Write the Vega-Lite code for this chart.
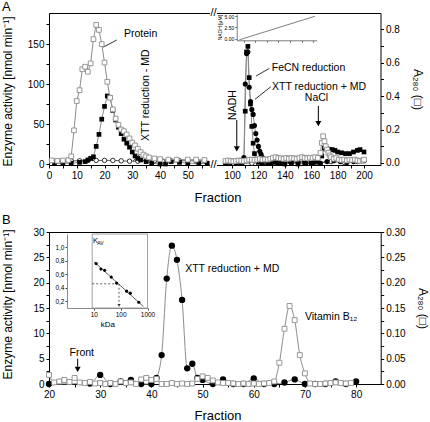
{
  "$schema": "https://vega.github.io/schema/vega-lite/v6.json",
  "autosize": {"type": "pad"},
  "padding": {"left": 1, "top": 1, "right": 0, "bottom": 0},
  "background": "white",
  "config": {
    "font": "Liberation Sans",
    "view": {"stroke": null},
    "axis": {"grid": false, "domainColor": "black", "tickColor": "black", "labelColor": "black", "titleColor": "black", "labelFontSize": 10, "tickSize": 3, "labelPadding": 2, "titleFontWeight": "normal", "domainWidth": 1, "tickWidth": 1, "labelFlush": false, "labelOverlap": false, "zindex": 0, "tickCount": 100},
    "text": {"color": "black"}
  },
  "datasets": {
    "A": [
      {"s":"P","f":1,"v":0.015},{"s":"P","f":3,"v":0.013},{"s":"P","f":5,"v":0.015},{"s":"P","f":7,"v":0.018},{"s":"P","f":8,"v":0.04},{"s":"P","f":9,"v":0.195},{"s":"P","f":10,"v":0.37},{"s":"P","f":11,"v":0.435},{"s":"P","f":12,"v":0.56},{"s":"P","f":13,"v":0.575},{"s":"P","f":14,"v":0.545},{"s":"P","f":15,"v":0.595},{"s":"P","f":16,"v":0.74},{"s":"P","f":17,"v":0.825},{"s":"P","f":18,"v":0.795},{"s":"P","f":19,"v":0.71},{"s":"P","f":20,"v":0.6},{"s":"P","f":21,"v":0.485},{"s":"P","f":22,"v":0.39},{"s":"P","f":23,"v":0.32},{"s":"P","f":24,"v":0.265},{"s":"P","f":25,"v":0.228},{"s":"P","f":26,"v":0.2},{"s":"P","f":27,"v":0.19},{"s":"P","f":28,"v":0.17},{"s":"P","f":29,"v":0.147},{"s":"P","f":30,"v":0.122},{"s":"P","f":31,"v":0.105},{"s":"P","f":32,"v":0.085},{"s":"P","f":33,"v":0.065},{"s":"P","f":34,"v":0.05},{"s":"P","f":35,"v":0.04},{"s":"P","f":36,"v":0.033},{"s":"P","f":38,"v":0.027},{"s":"P","f":40,"v":0.023},{"s":"P","f":43,"v":0.02},{"s":"P","f":46,"v":0.02},{"s":"P","f":50,"v":0.02},{"s":"P","f":53,"v":0.02},{"s":"P","f":56,"v":0.018},
      {"s":"P","f":95,"v":0.012},{"s":"P","f":97,"v":0.015},{"s":"P","f":99,"v":0.012},{"s":"P","f":101,"v":0.01},{"s":"P","f":103,"v":0.012},{"s":"P","f":105,"v":0.015},{"s":"P","f":107,"v":0.013},{"s":"P","f":109,"v":0.012},{"s":"P","f":111,"v":0.015},{"s":"P","f":113,"v":0.02},{"s":"P","f":115,"v":0.02},{"s":"P","f":117,"v":0.018},{"s":"P","f":119,"v":0.02},{"s":"P","f":121,"v":0.025},{"s":"P","f":123,"v":0.02},{"s":"P","f":125,"v":0.022},{"s":"P","f":127,"v":0.02},{"s":"P","f":129,"v":0.025},{"s":"P","f":131,"v":0.03},{"s":"P","f":133,"v":0.035},{"s":"P","f":135,"v":0.03},{"s":"P","f":137,"v":0.028},{"s":"P","f":139,"v":0.025},{"s":"P","f":141,"v":0.03},{"s":"P","f":143,"v":0.025},{"s":"P","f":145,"v":0.03},{"s":"P","f":147,"v":0.028},{"s":"P","f":149,"v":0.025},{"s":"P","f":151,"v":0.03},{"s":"P","f":153,"v":0.035},{"s":"P","f":155,"v":0.03},{"s":"P","f":157,"v":0.028},{"s":"P","f":159,"v":0.032},{"s":"P","f":161,"v":0.03},{"s":"P","f":163,"v":0.035},{"s":"P","f":165,"v":0.03},{"s":"P","f":167,"v":0.06},{"s":"P","f":168,"v":0.12},{"s":"P","f":169,"v":0.16},{"s":"P","f":170,"v":0.13},{"s":"P","f":171,"v":0.1},{"s":"P","f":172,"v":0.08},{"s":"P","f":173,"v":0.06},{"s":"P","f":174,"v":0.045},{"s":"P","f":175,"v":0.035},{"s":"P","f":177,"v":0.025},{"s":"P","f":179,"v":0.03},{"s":"P","f":181,"v":0.02},{"s":"P","f":183,"v":0.018},{"s":"P","f":185,"v":0.02},{"s":"P","f":187,"v":0.015},{"s":"P","f":189,"v":0.02},{"s":"P","f":191,"v":0.018},{"s":"P","f":193,"v":0.02},{"s":"P","f":195,"v":0.015},{"s":"P","f":197,"v":0.012},{"s":"P","f":199,"v":0.015},{"s":"P","f":200,"v":0.02},
      {"s":"F","f":2,"v":0.5},{"s":"F","f":5,"v":1},{"s":"F","f":8,"v":1},{"s":"F","f":11,"v":2},{"s":"F","f":13,"v":3},{"s":"F","f":14,"v":5},{"s":"F","f":15,"v":7},{"s":"F","f":16,"v":9},{"s":"F","f":17,"v":22},{"s":"F","f":18,"v":37},{"s":"F","f":19,"v":56},{"s":"F","f":20,"v":72},{"s":"F","f":21,"v":85},{"s":"F","f":22,"v":83},{"s":"F","f":23,"v":67},{"s":"F","f":24,"v":55},{"s":"F","f":25,"v":46},{"s":"F","f":26,"v":38},{"s":"F","f":27,"v":31},{"s":"F","f":28,"v":26},{"s":"F","f":29,"v":21},{"s":"F","f":30,"v":15},{"s":"F","f":31,"v":10},{"s":"F","f":32,"v":7},{"s":"F","f":33,"v":5},{"s":"F","f":35,"v":3},{"s":"F","f":37,"v":1},{"s":"F","f":40,"v":0},{"s":"F","f":42,"v":0},{"s":"F","f":44,"v":3},{"s":"F","f":47,"v":2},{"s":"F","f":50,"v":1},{"s":"F","f":54,"v":0.5},{"s":"F","f":57,"v":1},
      {"s":"F","f":95,"v":2},{"s":"F","f":98,"v":3},{"s":"F","f":101,"v":3},{"s":"F","f":104,"v":4},{"s":"F","f":107,"v":2},{"s":"F","f":109,"v":3},{"s":"F","f":110,"v":66},{"s":"F","f":111,"v":140},{"s":"F","f":112,"v":147},{"s":"F","f":113,"v":108},{"s":"F","f":114,"v":75},{"s":"F","f":115,"v":47},{"s":"F","f":116,"v":26},{"s":"F","f":117,"v":13},{"s":"F","f":118,"v":6},{"s":"F","f":120,"v":2},{"s":"F","f":123,"v":1},{"s":"F","f":127,"v":1},{"s":"F","f":131,"v":2},{"s":"F","f":135,"v":1},{"s":"F","f":140,"v":0},{"s":"F","f":145,"v":1},{"s":"F","f":150,"v":0},{"s":"F","f":155,"v":1},{"s":"F","f":160,"v":1},{"s":"F","f":165,"v":3},{"s":"F","f":168,"v":10},{"s":"F","f":170,"v":20},{"s":"F","f":172,"v":19},{"s":"F","f":174,"v":18},{"s":"F","f":176,"v":18},{"s":"F","f":178,"v":17},{"s":"F","f":180,"v":15},{"s":"F","f":183,"v":14},{"s":"F","f":186,"v":13},{"s":"F","f":189,"v":13},{"s":"F","f":192,"v":15},{"s":"F","f":195,"v":17},{"s":"F","f":197,"v":18},{"s":"F","f":200,"v":15},
      {"s":"XP","f":95,"v":1},{"s":"XP","f":99,"v":2},{"s":"XP","f":103,"v":1},{"s":"XP","f":106,"v":2},{"s":"XP","f":108,"v":2},{"s":"XP","f":109,"v":8},{"s":"XP","f":110,"v":100},{"s":"XP","f":111,"v":138},{"s":"XP","f":112,"v":140},{"s":"XP","f":113,"v":96},{"s":"XP","f":114,"v":78},{"s":"XP","f":115,"v":68},{"s":"XP","f":116,"v":62},{"s":"XP","f":117,"v":48},{"s":"XP","f":118,"v":38},{"s":"XP","f":119,"v":30},{"s":"XP","f":120,"v":22},{"s":"XP","f":121,"v":16},{"s":"XP","f":122,"v":12},{"s":"XP","f":123,"v":8},{"s":"XP","f":125,"v":5},{"s":"XP","f":127,"v":3},{"s":"XP","f":130,"v":2},{"s":"XP","f":134,"v":2},{"s":"XP","f":138,"v":1},{"s":"XP","f":144,"v":3},{"s":"XP","f":150,"v":2},{"s":"XP","f":156,"v":1},{"s":"XP","f":162,"v":2},{"s":"XP","f":167,"v":1},{"s":"XP","f":172,"v":3},{"s":"XP","f":177,"v":4},{"s":"XP","f":182,"v":3},{"s":"XP","f":187,"v":2},{"s":"XP","f":192,"v":3},{"s":"XP","f":196,"v":4},{"s":"XP","f":200,"v":4},
      {"s":"XM","f":2,"v":3},{"s":"XM","f":5,"v":3.5},{"s":"XM","f":8,"v":4},{"s":"XM","f":11,"v":4},{"s":"XM","f":14,"v":4.5},{"s":"XM","f":17,"v":4.5},{"s":"XM","f":20,"v":4.5},{"s":"XM","f":23,"v":4.5},{"s":"XM","f":26,"v":4},{"s":"XM","f":29,"v":3.5},{"s":"XM","f":32,"v":3.5},{"s":"XM","f":35,"v":4.5},{"s":"XM","f":38,"v":4},{"s":"XM","f":41,"v":3.5},{"s":"XM","f":44,"v":4},{"s":"XM","f":47,"v":4},{"s":"XM","f":50,"v":4},{"s":"XM","f":53,"v":4},{"s":"XM","f":56,"v":4},
      {"s":"XM","f":97,"v":2},{"s":"XM","f":105,"v":2},{"s":"XM","f":115,"v":1},{"s":"XM","f":125,"v":2},{"s":"XM","f":135,"v":3},{"s":"XM","f":145,"v":2},{"s":"XM","f":155,"v":3},{"s":"XM","f":165,"v":2},{"s":"XM","f":175,"v":3},{"s":"XM","f":185,"v":2},{"s":"XM","f":195,"v":3}
    ],
    "B": [
      {"s":"XP","f":20,"v":0},{"s":"XP","f":28,"v":0.1},{"s":"XP","f":30,"v":1.8},{"s":"XP","f":32,"v":0},{"s":"XP","f":34,"v":0.5},{"s":"XP","f":36,"v":0.8},{"s":"XP","f":38,"v":0},{"s":"XP","f":40,"v":0},{"s":"XP","f":41,"v":1.2},{"s":"XP","f":42,"v":5.7},{"s":"XP","f":43,"v":20.8},{"s":"XP","f":44,"v":27.3},{"s":"XP","f":45,"v":24.5},{"s":"XP","f":46,"v":16.6},{"s":"XP","f":47,"v":3.1},{"s":"XP","f":48,"v":4.0},{"s":"XP","f":49,"v":1.2},{"s":"XP","f":50,"v":0.8},{"s":"XP","f":52,"v":0},{"s":"XP","f":54,"v":0.9},{"s":"XP","f":56,"v":0},{"s":"XP","f":58,"v":0},{"s":"XP","f":60,"v":1.1},{"s":"XP","f":62,"v":0},{"s":"XP","f":64,"v":0},{"s":"XP","f":66,"v":0.3},{"s":"XP","f":68,"v":0.9},{"s":"XP","f":70,"v":0},{"s":"XP","f":72,"v":0},{"s":"XP","f":74,"v":0},{"s":"XP","f":76,"v":0.5},{"s":"XP","f":78,"v":0},{"s":"XP","f":80,"v":0.5},
      {"s":"P","f":20,"v":0.018},{"s":"P","f":21,"v":0.003},{"s":"P","f":22,"v":0.005},{"s":"P","f":23,"v":0.008},{"s":"P","f":24,"v":0.004},{"s":"P","f":25,"v":0.012},{"s":"P","f":26,"v":0.003},{"s":"P","f":27,"v":0.002},{"s":"P","f":28,"v":0.004},{"s":"P","f":29,"v":0.001},{"s":"P","f":30,"v":0.002},{"s":"P","f":31,"v":0},{"s":"P","f":32,"v":0.002},{"s":"P","f":33,"v":0},{"s":"P","f":34,"v":0.005},{"s":"P","f":35,"v":0.002},{"s":"P","f":36,"v":0.003},{"s":"P","f":37,"v":0},{"s":"P","f":38,"v":0.009},{"s":"P","f":39,"v":0.012},{"s":"P","f":40,"v":0.008},{"s":"P","f":41,"v":0.01},{"s":"P","f":42,"v":0},{"s":"P","f":43,"v":0},{"s":"P","f":44,"v":0.002},{"s":"P","f":45,"v":0},{"s":"P","f":46,"v":0.001},{"s":"P","f":47,"v":0},{"s":"P","f":48,"v":0.001},{"s":"P","f":49,"v":0.01},{"s":"P","f":50,"v":0.015},{"s":"P","f":51,"v":0.012},{"s":"P","f":52,"v":0.007},{"s":"P","f":53,"v":0.003},{"s":"P","f":54,"v":0.002},{"s":"P","f":55,"v":0.002},{"s":"P","f":56,"v":0.001},{"s":"P","f":57,"v":0},{"s":"P","f":58,"v":0.001},{"s":"P","f":59,"v":0},{"s":"P","f":60,"v":0.001},{"s":"P","f":61,"v":0},{"s":"P","f":62,"v":0.001},{"s":"P","f":63,"v":0.002},{"s":"P","f":64,"v":0.005},{"s":"P","f":65,"v":0.042},{"s":"P","f":66,"v":0.109},{"s":"P","f":67,"v":0.154},{"s":"P","f":68,"v":0.126},{"s":"P","f":69,"v":0.057},{"s":"P","f":70,"v":0.021},{"s":"P","f":71,"v":0.001},{"s":"P","f":72,"v":0},{"s":"P","f":73,"v":0},{"s":"P","f":74,"v":0.001},{"s":"P","f":75,"v":0.002},{"s":"P","f":76,"v":0.003},{"s":"P","f":77,"v":0.002},{"s":"P","f":78,"v":0.001},{"s":"P","f":79,"v":0.002}
    ],
    "K": [
      {"kda":12.2,"kav":0.76},{"kda":18.4,"kav":0.68},{"kda":25.3,"kav":0.66},{"kda":44.6,"kav":0.56},{"kda":70.2,"kav":0.47},{"kda":167,"kav":0.35},{"kda":229,"kav":0.32},{"kda":472,"kav":0.185}
    ],
    "Kfit": [{"kda":10,"kav":0.79},{"kda":700,"kav":0.123}],
    "N": [{"t":-0.38,"c":-0.3},{"t":6.15,"c":5.0}]
  },
  "bounds": "flush",
  "spacing": 67,
  "vconcat": [
    {
      "width": 331.5, "height": 152,
      "resolve": {"scale": {"x": "independent", "y": "independent"}, "axis": {"x": "independent", "y": "independent"}},
      "layer": [
        {"layer": [
          {"data": {"name": "A"}, "transform": [{"filter": "datum.s == 'F' && datum.f < 60"}],
           "mark": {"type": "line", "color": "#8c8c8c", "strokeWidth": 1},
           "encoding": {
             "x": {"field": "f", "type": "quantitative", "scale": {"domain": [0, 58, 88.6, 212.5], "range": [0, 161, 168, 331.5], "nice": false, "zero": false},
               "axis": {"orient": "bottom", "tickCount": 100, "labelOverlap": false, "values": [0,5,10,15,20,25,30,35,40,45,50,55,100,110,120,130,140,150,160,170,180,190,200], "labelExpr": "(datum.value < 60 && datum.value % 10 == 0) || (datum.value >= 100 && datum.value % 20 == 0) ? format(datum.value, 'd') : ''", "title": "Fraction", "titleFontSize": 13, "titleX": 168.5, "titleY": 36, "titleBaseline": "alphabetic", "titleAlign": "center", "titleAngle": 0}},
             "y": {"field": "v", "type": "quantitative", "scale": {"domain": [-1.25, 188.75], "nice": false, "zero": false},
               "axis": {"orient": "left", "tickCount": 100, "labelOverlap": false, "values": [0,25,50,75,100,125,150,175], "labelExpr": "datum.value % 50 == 0 ? format(datum.value, 'd') : ''", "title": "Enzyme activity [nmol min⁻¹]", "titleFontSize": 12, "titleX": -37.5, "titleY": 78, "titleAngle": 270, "titleBaseline": "alphabetic", "titleAlign": "center"}}
           }},
          {"data": {"name": "A"}, "transform": [{"filter": "datum.s == 'F' && datum.f > 90"}],
           "mark": {"type": "line", "color": "#8c8c8c", "strokeWidth": 1},
           "encoding": {"x": {"field": "f", "type": "quantitative"}, "y": {"field": "v", "type": "quantitative"}}},
          {"data": {"name": "A"}, "transform": [{"filter": "datum.s == 'XP'"}],
           "mark": {"type": "line", "color": "#8c8c8c", "strokeWidth": 1},
           "encoding": {"x": {"field": "f", "type": "quantitative"}, "y": {"field": "v", "type": "quantitative"}}},
          {"data": {"name": "A"}, "transform": [{"filter": "datum.s == 'XM' && datum.f < 60"}],
           "mark": {"type": "line", "color": "#333333", "strokeWidth": 0.8},
           "encoding": {"x": {"field": "f", "type": "quantitative"}, "y": {"field": "v", "type": "quantitative"}}},
          {"data": {"name": "A"}, "transform": [{"filter": "datum.s == 'XM' && datum.f > 90"}],
           "mark": {"type": "line", "color": "#333333", "strokeWidth": 0.8},
           "encoding": {"x": {"field": "f", "type": "quantitative"}, "y": {"field": "v", "type": "quantitative"}}},
          {"data": {"name": "A"}, "transform": [{"filter": "datum.s == 'XM'"}],
           "mark": {"type": "point", "shape": "circle", "filled": true, "fill": "white", "stroke": "black", "strokeWidth": 0.8, "size": 20, "opacity": 1},
           "encoding": {"x": {"field": "f", "type": "quantitative"}, "y": {"field": "v", "type": "quantitative"}}},
          {"data": {"name": "A"}, "transform": [{"filter": "datum.s == 'F'"}],
           "mark": {"type": "point", "shape": "square", "filled": true, "color": "black", "size": 22, "opacity": 1},
           "encoding": {"x": {"field": "f", "type": "quantitative"}, "y": {"field": "v", "type": "quantitative"}}},
          {"data": {"name": "A"}, "transform": [{"filter": "datum.s == 'XP'"}],
           "mark": {"type": "point", "shape": "circle", "filled": true, "color": "black", "size": 26, "opacity": 1},
           "encoding": {"x": {"field": "f", "type": "quantitative"}, "y": {"field": "v", "type": "quantitative"}}},
          {"data": {"values": [{}]}, "mark": {"type": "text", "align": "left", "baseline": "middle", "fontSize": 10.5},
           "encoding": {"x": {"datum": 27}, "y": {"datum": 162.5}, "text": {"value": "Protein"}}},
          {"data": {"values": [{}]}, "mark": {"type": "rule", "color": "black", "strokeWidth": 0.8},
           "encoding": {"x": {"datum": 19.5}, "y": {"datum": 146}, "x2": {"datum": 24.4}, "y2": {"datum": 155}}},
          {"data": {"values": [{}]}, "mark": {"type": "text", "align": "center", "baseline": "middle", "fontSize": 10.5, "angle": 270},
           "encoding": {"x": {"datum": 35.1}, "y": {"datum": 86}, "text": {"value": "XTT reduction - MD"}}},
          {"data": {"values": [{}]}, "mark": {"type": "rule", "color": "black", "strokeWidth": 0.8},
           "encoding": {"x": {"datum": 30.3}, "y": {"datum": 3.75}, "x2": {"datum": 33.3}, "y2": {"datum": 14}}},
          {"data": {"values": [{}]}, "mark": {"type": "text", "align": "left", "baseline": "middle", "fontSize": 10.5},
           "encoding": {"x": {"datum": 130.1}, "y": {"datum": 120.4}, "text": {"value": "FeCN reduction"}}},
          {"data": {"values": [{}]}, "mark": {"type": "rule", "color": "black", "strokeWidth": 0.8},
           "encoding": {"x": {"datum": 118.2}, "y": {"datum": 110}, "x2": {"datum": 128.3}, "y2": {"datum": 119.5}}},
          {"data": {"values": [{}]}, "mark": {"type": "text", "align": "left", "baseline": "middle", "fontSize": 10.5},
           "encoding": {"x": {"datum": 130.3}, "y": {"datum": 96.25}, "text": {"value": "XTT reduction + MD"}}},
          {"data": {"values": [{}]}, "mark": {"type": "rule", "color": "black", "strokeWidth": 0.8},
           "encoding": {"x": {"datum": 117.4}, "y": {"datum": 80.9}, "x2": {"datum": 129.3}, "y2": {"datum": 96.5}}},
          {"data": {"values": [{}]}, "mark": {"type": "text", "align": "center", "baseline": "middle", "fontSize": 10.5, "angle": 270},
           "encoding": {"x": {"datum": 101.1}, "y": {"datum": 73.75}, "text": {"value": "NADH"}}},
          {"data": {"values": [{}]}, "mark": {"type": "rule", "color": "black", "strokeWidth": 1},
           "encoding": {"x": {"datum": 103.6}, "y": {"datum": 55}, "y2": {"datum": 22}}},
          {"data": {"values": [{}]}, "mark": {"type": "point", "shape": "triangle-down", "filled": true, "color": "black", "size": 36, "opacity": 1},
           "encoding": {"x": {"datum": 103.6}, "y": {"datum": 19}}},
          {"data": {"values": [{}]}, "mark": {"type": "text", "align": "center", "baseline": "middle", "fontSize": 10.5},
           "encoding": {"x": {"datum": 164}, "y": {"datum": 82.9}, "text": {"value": "NaCl"}}},
          {"data": {"values": [{}]}, "mark": {"type": "rule", "color": "black", "strokeWidth": 1},
           "encoding": {"x": {"datum": 165.4}, "y": {"datum": 72.5}, "y2": {"datum": 53}}},
          {"data": {"values": [{}]}, "mark": {"type": "point", "shape": "triangle-down", "filled": true, "color": "black", "size": 36, "opacity": 1},
           "encoding": {"x": {"datum": 165.4}, "y": {"datum": 50.5}}},
          {"data": {"values": [{}]}, "mark": {"type": "text", "align": "left", "baseline": "alphabetic", "fontSize": 13, "dx": -47, "dy": -2},
           "encoding": {"x": {"datum": 0}, "y": {"datum": 188.75}, "text": {"value": "A"}}},
          {"data": {"values": [{}]}, "mark": {"type": "rect", "fill": "white", "stroke": null},
           "encoding": {"x": {"datum": 58.2}, "x2": {"datum": 88.3}, "y": {"datum": -6}, "y2": {"datum": 193}}},
          {"data": {"values": [{}]}, "mark": {"type": "text", "align": "center", "baseline": "middle", "fontSize": 11, "dx": 3.5},
           "encoding": {"x": {"datum": 58}, "y": {"datum": 188.75}, "text": {"value": "//"}}},
          {"data": {"values": [{}]}, "mark": {"type": "text", "align": "center", "baseline": "middle", "fontSize": 11, "dx": 3.5},
           "encoding": {"x": {"datum": 58}, "y": {"datum": -1.25}, "text": {"value": "//"}}}
        ]},
        {"layer": [
          {"data": {"name": "A"}, "transform": [{"filter": "datum.s == 'P' && datum.f < 60"}],
           "mark": {"type": "line", "color": "#8c8c8c", "strokeWidth": 1},
           "encoding": {
             "x": {"field": "f", "type": "quantitative", "scale": {"domain": [0, 58, 88.6, 212.5], "range": [0, 161, 168, 331.5], "nice": false, "zero": false}, "axis": {"orient": "top", "labels": false, "ticks": false, "title": null}},
             "y": {"field": "v", "type": "quantitative", "scale": {"domain": [-0.012, 0.896], "nice": false, "zero": false},
               "axis": {"orient": "right", "tickCount": 100, "labelOverlap": false, "labelAlign": "left", "values": [0,0.1,0.2,0.3,0.4,0.5,0.6,0.7,0.8], "labelExpr": "round(datum.value*10) % 2 == 0 ? format(datum.value, '.1f') : ''", "title": "A₂₈₀ (□)", "titleFontSize": 12, "titleAngle": 90, "titleX": 32.5, "titleY": 76, "titleBaseline": "alphabetic", "titleAlign": "center"}}}},
          {"data": {"name": "A"}, "transform": [{"filter": "datum.s == 'P' && datum.f > 90"}],
           "mark": {"type": "line", "color": "#8c8c8c", "strokeWidth": 1},
           "encoding": {"x": {"field": "f", "type": "quantitative", "axis": {"orient": "top"}}, "y": {"field": "v", "type": "quantitative", "axis": {"orient": "right"}}}},
          {"data": {"name": "A"}, "transform": [{"filter": "datum.s == 'P'"}],
           "mark": {"type": "point", "shape": "square", "filled": true, "fill": "white", "stroke": "#8c8c8c", "strokeWidth": 0.9, "size": 22, "opacity": 1},
           "encoding": {"x": {"field": "f", "type": "quantitative", "axis": {"orient": "top"}}, "y": {"field": "v", "type": "quantitative", "axis": {"orient": "right"}}}}
        ]},
        {"layer": [
          {"data": {"name": "N"},
           "mark": {"type": "line", "color": "#707070", "strokeWidth": 0.9},
           "encoding": {
             "x": {"field": "t", "type": "quantitative", "scale": {"domain": [-0.6, 6.3], "range": [187.7, 267.7], "nice": false, "zero": false},
               "axis": {"orient": "bottom", "tickCount": 100, "offset": -124.7, "values": [0,1,2,3,4,5,6], "labels": false, "tickSize": 2, "title": null, "domainColor": "#444", "tickColor": "#444", "domainWidth": 0.7, "tickWidth": 0.7}},
             "y": {"field": "c", "type": "quantitative", "scale": {"domain": [-0.4, 5.5], "range": [27.3, 1], "nice": false, "zero": false},
               "axis": {"orient": "left", "tickCount": 100, "labelOverlap": false, "offset": -187.7, "values": [0, 2.5, 5], "labelFontSize": 5, "tickSize": 2, "labelPadding": 1, "title": "NADH [µM]", "titleFontSize": 5, "titlePadding": 1, "domainColor": "#444", "tickColor": "#444", "domainWidth": 0.7, "tickWidth": 0.7}}
           }}
        ]}
      ]
    },
    {
      "width": 331.7, "height": 152,
      "resolve": {"scale": {"x": "independent", "y": "independent"}, "axis": {"x": "independent", "y": "independent"}},
      "layer": [
        {"layer": [
          {"data": {"name": "B"}, "transform": [{"filter": "datum.s == 'XP'"}],
           "mark": {"type": "line", "color": "#8c8c8c", "strokeWidth": 1, "interpolate": "monotone"},
           "encoding": {
             "x": {"field": "f", "type": "quantitative", "scale": {"domain": [20, 84.8], "nice": false, "zero": false},
               "axis": {"orient": "bottom", "tickCount": 100, "labelOverlap": false, "values": [20,25,30,35,40,45,50,55,60,65,70,75,80], "labelExpr": "datum.value % 10 == 0 ? format(datum.value, 'd') : ''", "title": "Fraction", "titleFontSize": 13, "titleX": 168.5, "titleY": 35.3, "titleBaseline": "alphabetic", "titleAlign": "center", "titleAngle": 0}},
             "y": {"field": "v", "type": "quantitative", "scale": {"domain": [0, 30], "nice": false, "zero": false},
               "axis": {"orient": "left", "tickCount": 100, "labelOverlap": false, "values": [0,2.5,5,7.5,10,12.5,15,17.5,20,22.5,25,27.5,30], "labelExpr": "datum.value % 5 == 0 ? format(datum.value, 'd') : ''", "title": "Enzyme activity [nmol min⁻¹]", "titleFontSize": 12, "titleX": -37.5, "titleY": 72, "titleAngle": 270, "titleBaseline": "alphabetic", "titleAlign": "center"}}
           }},
          {"data": {"name": "B"}, "transform": [{"filter": "datum.s == 'XP'"}],
           "mark": {"type": "point", "shape": "circle", "filled": true, "color": "black", "size": 40, "opacity": 1},
           "encoding": {"x": {"field": "f", "type": "quantitative"}, "y": {"field": "v", "type": "quantitative"}}},
          {"data": {"values": [{}]}, "mark": {"type": "text", "align": "left", "baseline": "middle", "fontSize": 10.5},
           "encoding": {"x": {"datum": 46.6}, "y": {"datum": 22.75}, "text": {"value": "XTT reduction + MD"}}},
          {"data": {"values": [{}]}, "mark": {"type": "text", "align": "left", "baseline": "middle", "fontSize": 10.5},
           "encoding": {"x": {"datum": 70}, "y": {"datum": 13.2}, "text": {"value": "Vitamin B₁₂"}}},
          {"data": {"values": [{}]}, "mark": {"type": "text", "align": "center", "baseline": "middle", "fontSize": 10.5},
           "encoding": {"x": {"datum": 26.4}, "y": {"datum": 6.1}, "text": {"value": "Front"}}},
          {"data": {"values": [{}]}, "mark": {"type": "rule", "color": "black", "strokeWidth": 1},
           "encoding": {"x": {"datum": 25.6}, "y": {"datum": 5.0}, "y2": {"datum": 3.4}}},
          {"data": {"values": [{}]}, "mark": {"type": "point", "shape": "triangle-down", "filled": true, "color": "black", "size": 36, "opacity": 1},
           "encoding": {"x": {"datum": 25.6}, "y": {"datum": 2.9}}},
          {"data": {"values": [{}]}, "mark": {"type": "text", "align": "left", "baseline": "alphabetic", "fontSize": 13, "dx": -47, "dy": -7.7},
           "encoding": {"x": {"datum": 20}, "y": {"datum": 30}, "text": {"value": "B"}}}
        ]},
        {"layer": [
          {"data": {"name": "B"}, "transform": [{"filter": "datum.s == 'P'"}],
           "mark": {"type": "line", "color": "#8c8c8c", "strokeWidth": 1, "interpolate": "monotone"},
           "encoding": {
             "x": {"field": "f", "type": "quantitative", "scale": {"domain": [20, 84.8], "nice": false, "zero": false}, "axis": {"orient": "top", "labels": false, "ticks": false, "title": null}},
             "y": {"field": "v", "type": "quantitative", "scale": {"domain": [0, 0.3], "nice": false, "zero": false},
               "axis": {"orient": "right", "tickCount": 100, "labelOverlap": false, "labelAlign": "left", "values": [0,0.025,0.05,0.075,0.1,0.125,0.15,0.175,0.2,0.225,0.25,0.275,0.3], "labelExpr": "round(datum.value*1000) % 50 == 0 ? format(datum.value, '.2f') : ''", "title": "A₂₈₀ (□)", "titleFontSize": 12, "titleAngle": 90, "titleX": 37.5, "titleY": 76, "titleBaseline": "alphabetic", "titleAlign": "center"}}}},
          {"data": {"name": "B"}, "transform": [{"filter": "datum.s == 'P'"}],
           "mark": {"type": "point", "shape": "square", "filled": true, "fill": "white", "stroke": "#8c8c8c", "strokeWidth": 0.9, "size": 24, "opacity": 1},
           "encoding": {"x": {"field": "f", "type": "quantitative", "axis": {"orient": "top"}}, "y": {"field": "v", "type": "quantitative", "axis": {"orient": "right"}}}}
        ]},
        {"layer": [
          {"data": {"values": [{}]}, "mark": {"type": "rect", "fill": "white", "stroke": "#8a8a8a", "strokeWidth": 0.8},
           "encoding": {
             "x": {"datum": 8.7, "type": "quantitative", "scale": {"type": "log", "domain": [8.7, 1000], "range": [18, 98.5]},
               "axis": {"orient": "bottom", "tickCount": 100, "labelOverlap": false, "offset": -76, "values": [10, 100, 1000], "format": "d", "labelFontSize": 6.5, "tickSize": 2, "labelPadding": 1, "title": "kDa", "titleFontSize": 8, "titlePadding": 3, "domainColor": "#8a8a8a", "tickColor": "#444"}},
             "x2": {"datum": 1000},
             "y": {"datum": 0.1, "type": "quantitative", "scale": {"domain": [0.1, 1.2], "range": [76, 2], "nice": false, "zero": false},
               "axis": {"orient": "left", "tickCount": 100, "labelOverlap": false, "offset": -18, "values": [0.2, 0.4, 0.6, 0.8, 1.0], "labelExpr": "replace(format(datum.value, '.1f'), '.', ',')", "labelFontSize": 6.5, "tickSize": 2, "labelPadding": 1, "title": null, "domainColor": "#8a8a8a", "tickColor": "#444"}},
             "y2": {"datum": 1.2}}},
          {"data": {"values": [{}]}, "mark": {"type": "rule", "color": "#333", "strokeWidth": 0.8, "strokeDash": [2, 2]},
           "encoding": {"x": {"datum": 8.7}, "x2": {"datum": 87}, "y": {"datum": 0.46}}},
          {"data": {"values": [{}]}, "mark": {"type": "rule", "color": "#333", "strokeWidth": 0.8, "strokeDash": [2, 2]},
           "encoding": {"x": {"datum": 87}, "y": {"datum": 0.46}, "y2": {"datum": 0.15}}},
          {"data": {"values": [{}]}, "mark": {"type": "point", "shape": "triangle-down", "filled": true, "color": "#333", "size": 10, "opacity": 1},
           "encoding": {"x": {"datum": 87}, "y": {"datum": 0.14}}},
          {"data": {"name": "Kfit"}, "mark": {"type": "line", "color": "#333", "strokeWidth": 0.8},
           "encoding": {"x": {"field": "kda", "type": "quantitative"}, "y": {"field": "kav", "type": "quantitative"}}},
          {"data": {"name": "K"}, "mark": {"type": "point", "shape": "circle", "filled": true, "color": "black", "size": 10, "opacity": 1},
           "encoding": {"x": {"field": "kda", "type": "quantitative"}, "y": {"field": "kav", "type": "quantitative"}}},
          {"data": {"values": [{}]}, "mark": {"type": "text", "align": "left", "baseline": "middle", "fontSize": 7.5},
           "encoding": {"x": {"datum": 9.4}, "y": {"datum": 1.1}, "text": {"value": "K"}}},
          {"data": {"values": [{}]}, "mark": {"type": "text", "align": "left", "baseline": "middle", "fontSize": 5},
           "encoding": {"x": {"datum": 13.4}, "y": {"datum": 1.065}, "text": {"value": "AV"}}}
        ]}
      ]
    }
  ]
}
